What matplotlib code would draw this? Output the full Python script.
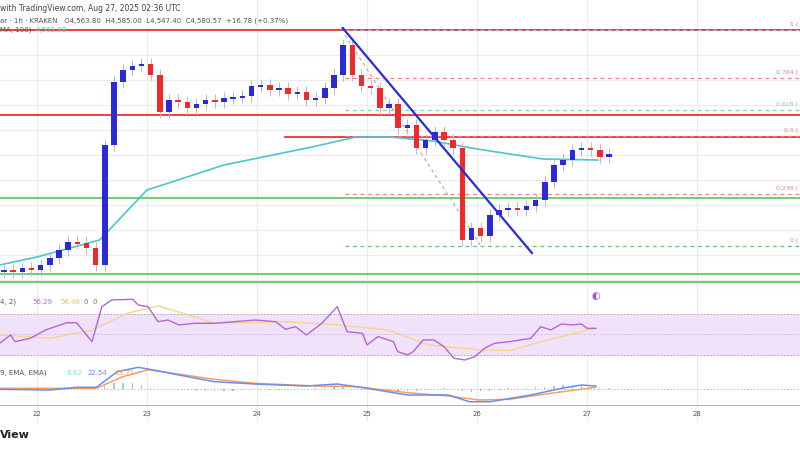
import numpy as np
import matplotlib
matplotlib.use("Agg")
import matplotlib.pyplot as plt

# ---- data ----
closes = [4470, 4466, 4474, 4470, 4480, 4494, 4510, 4526, 4524, 4514, 4480, 4720, 4846, 4870, 4878,
          4882, 4860, 4786, 4810, 4806, 4794, 4802, 4810, 4806, 4814, 4816, 4818, 4838, 4840, 4830, 4834,
          4822, 4826, 4810, 4814, 4834, 4860, 4920, 4860, 4838, 4834, 4794, 4802, 4754, 4760, 4714, 4730,
          4746, 4730, 4714, 4530, 4554, 4538, 4580, 4590, 4594, 4590, 4598, 4610, 4646, 4680, 4690, 4710,
          4714, 4710, 4696, 4702]
start_day = 21.70
candle_step = 1 / 12  # 2h spacing in days

ema_days = [21.66, 22.0, 22.57, 23.0, 23.7, 24.5, 24.9, 25.2, 25.6, 26.0, 26.6, 27.1]
ema_vals = [4480, 4496, 4530, 4630, 4680, 4716, 4736, 4736, 4728, 4712, 4692, 4690]

hlines_red = [(4950, 21.66), (4780, 21.66), (4736, 24.25)]
hlines_green = [(4614, 21.66), (4462, 21.66), (4446, 21.66)]
fib_levels = ["1", "0.764", "0.618", "0.5", "0.236", "0"]
fib_prices = [4950, 4854, 4790, 4738, 4622, 4518]
fib_colors = ["#9ec5e8", "#f08080", "#7fcfc0", "#f08080", "#f08080", "#6abf6a"]
trend_days = [24.78, 26.50]
trend_vals = [4954, 4504]
guide_days = [24.80, 26.03]
guide_vals = [4940, 4520]

rsi_days = [21.66, 21.76, 21.80, 21.94, 22.08, 22.27, 22.36, 22.50, 22.59, 22.68, 22.87, 22.92, 23.01,
            23.10, 23.19, 23.29, 23.43, 23.61, 23.80, 23.98, 24.17, 24.26, 24.35, 24.45, 24.59, 24.73,
            24.82, 24.96, 25.00, 25.10, 25.24, 25.28, 25.37, 25.42, 25.51, 25.61, 25.70, 25.79, 25.89,
            25.98, 26.07, 26.16, 26.30, 26.49, 26.58, 26.67, 26.77, 26.86, 26.95, 27.00, 27.08]
rsi_vals = [41.4, 49.5, 43, 46.3, 54.4, 61.5, 61.5, 43, 77.1, 83.7, 84.3, 78.8, 77.1, 62.5, 64.1, 59.3,
            60.9, 60.9, 62.5, 64.1, 62.5, 55, 57.6, 49.5, 60.9, 77.1, 52.7, 51.1, 39.8, 47.9, 43, 33.2,
            30, 33.2, 44.6, 44.6, 38.1, 26.8, 25.1, 28.3, 36.5, 41.4, 43, 46.3, 57.6, 54.4, 60.2, 59.3,
            60.2, 56, 56]
rsima_days = [21.66, 22.13, 22.50, 22.82, 23.10, 23.33, 23.61, 24.26, 24.73, 25.19, 25.56, 26.02, 26.30, 26.58, 27.08]
rsima_vals = [49.5, 46.3, 54.4, 70.6, 77.8, 70.6, 60.9, 62.5, 59.3, 54.4, 39.8, 35, 34.3, 43, 56]

macd_days = [21.66, 22.13, 22.36, 22.54, 22.73, 22.92, 23.06, 23.29, 23.61, 23.98, 24.45, 24.73, 25.0,
             25.37, 25.74, 25.93, 26.12, 26.49, 26.77, 26.95, 27.08]
macd_vals = [-0.3, -1, 1.7, 1.7, 17.3, 21.7, 19, 14, 7.3, 5, 3, 5, 0.7, -6, -6, -12.7, -12.7, -6, 0.7, 4, 3]
sig_days = [21.66, 22.54, 22.78, 23.01, 23.24, 23.61, 23.98, 24.54, 24.91, 25.37, 25.74, 26.02, 26.30, 26.67, 27.08]
sig_vals = [0.7, 0.7, 12.3, 19.3, 15.7, 9.7, 5.7, 3, 2.3, -3.7, -7, -11, -10.3, -4.3, 1.7]

day_ticks = [22, 23, 24, 25, 26, 27, 28]
xlim = (21.664, 28.937)

UP, DN = "#2a2ad8", "#ee2a2a"
GRID = "#ececec"

fig = plt.figure(figsize=(8, 4.5), dpi=100)
H = 450.0
def ax_at(top, bottom):
    return fig.add_axes([0, 1 - bottom / H, 1, (bottom - top) / H])

ax = ax_at(0, 290)
ax_r = ax_at(290, 365)
ax_m = ax_at(365, 406)
ax_d = ax_at(406, 422)
for a in (ax, ax_r, ax_m, ax_d):
    a.set_xlim(*xlim)
    a.set_xticks([]); a.set_yticks([])
    for s in a.spines.values():
        s.set_visible(False)
    for d in day_ticks:
        a.axvline(d, color=GRID, lw=0.8, zorder=0)

# main
ax.set_ylim(4430, 5010)
for p in np.arange(4450, 5000, 50):
    ax.axhline(p, color=GRID, lw=0.8, zorder=0)
for p, x0 in hlines_red:
    ax.hlines(p, x0, xlim[1], color="#f03030", lw=1.3, zorder=2)
for p, x0 in hlines_green:
    ax.hlines(p, x0, xlim[1], color="#5cc35c", lw=1.2, zorder=2)
for lab, p, c in zip(fib_levels, fib_prices, fib_colors):
    ax.hlines(p, 24.80, xlim[1], color=c, lw=0.9, ls=(0, (3, 3)), zorder=2)
    ax.text(28.92, p + 6, lab + " (", fontsize=4.5, color=c if c != "#9ec5e8" else "#888", ha="right", va="bottom")
ax.plot(guide_days, guide_vals, color="#aaaaaa", lw=0.8, ls=(0, (3, 3)), zorder=2)
ax.plot(ema_days, ema_vals, color="#4cc4d4", lw=1.2, zorder=3)
opens = [closes[0] - 4] + closes[:-1]
for i, (o, c) in enumerate(zip(opens, closes)):
    t = start_day + i * candle_step
    col = UP if c >= o else DN
    lo, hi = min(o, c), max(o, c)
    ax.vlines(t, lo - 12, hi + 12, color="#bbbbbb", lw=0.7, zorder=3)
    ax.bar(t, max(hi - lo, 3), bottom=lo if hi - lo >= 3 else lo - 1.5, width=0.05, color=col, zorder=4)
ax.plot(trend_days, trend_vals, color="#2a2ae0", lw=1.6, zorder=5)
ax.text(0.0, 0.985, "with TradingView.com, Aug 27, 2025 02:36 UTC", transform=ax.transAxes, fontsize=5.5, color="#444", va="top")
ax.text(0.0, 0.94, "ar · 1h · KRAKEN   O4,563.80  H4,585.00  L4,547.40  C4,580.57  +16.78 (+0.37%)", transform=ax.transAxes, fontsize=5, color="#555", va="top")
ax.text(0.0, 0.908, "MA, 100)", transform=ax.transAxes, fontsize=5, color="#555", va="top")
ax.text(0.045, 0.908, "4,562.98", transform=ax.transAxes, fontsize=5, color="#4cc4d4", va="top")

# RSI
ax_r.set_ylim(20.2, 93.4)
ax_r.axhspan(30, 70, color="#f0e2fb", zorder=0)
for v in (30, 70):
    ax_r.axhline(v, color="#aaaaaa", lw=0.6, ls=(0, (2, 2)))
ax_r.axhline(50, color="#d0b4e8", lw=0.6, ls=(0, (2, 2)))
ax_r.plot(rsima_days, rsima_vals, color="#f5d58a", lw=1.0)
ax_r.plot(rsi_days, rsi_vals, color="#b466d4", lw=1.0)
ax_r.text(0.0, 0.84, "4, 2)", transform=ax_r.transAxes, fontsize=5, color="#555", va="center")
ax_r.text(0.04, 0.84, "56.29", transform=ax_r.transAxes, fontsize=5, color="#b466d4", va="center")
ax_r.text(0.075, 0.84, "56.46", transform=ax_r.transAxes, fontsize=5, color="#e8c070", va="center")
ax_r.text(0.105, 0.84, "0  0", transform=ax_r.transAxes, fontsize=5, color="#777", va="center")
ax_r.text(27.08, 88, "◐", fontsize=7, color="#a050d0", ha="center", va="center")
ax.axhline(4430, color=GRID, lw=0.8)

# MACD
ax_m.set_ylim(-17, 24)
ax_m.axhline(0, color="#bbbbbb", lw=0.6, ls=(0, (2, 2)))
ht = start_day + np.arange(len(closes)) * candle_step
hist = np.interp(ht, macd_days, macd_vals) - np.interp(ht, sig_days, sig_vals)
ax_m.bar(ht, hist, width=0.012, color=np.where(hist >= 0, "#8fd8c8", "#f0a0a0"))
ax_m.plot(sig_days, sig_vals, color="#f5a060", lw=1.1)
ax_m.plot(macd_days, macd_vals, color="#6a8ef0", lw=1.1)
ax_m.text(0.0, 0.8, "9, EMA, EMA)", transform=ax_m.transAxes, fontsize=5, color="#555", va="center")
ax_m.text(0.083, 0.8, "8.82", transform=ax_m.transAxes, fontsize=5, color="#8fd8c8", va="center")
ax_m.text(0.11, 0.8, "22.54", transform=ax_m.transAxes, fontsize=5, color="#6a8ef0", va="center")
ax_m.text(0.143, 0.8, "13.71", transform=ax_m.transAxes, fontsize=5, color="#f5a060", va="center")
ax_m.axhline(-17, color="#aaaaaa", lw=2)

# dates
ax_d.set_ylim(0, 1)
for d in day_ticks:
    ax_d.text(d, 0.5, str(d), fontsize=5, color="#555", ha="center", va="center")
fig.text(0.0, 1 - 435 / H, "View", fontsize=8, fontweight="bold", color="#222", va="center")

fig.savefig("out.png", dpi=100, facecolor="white")
